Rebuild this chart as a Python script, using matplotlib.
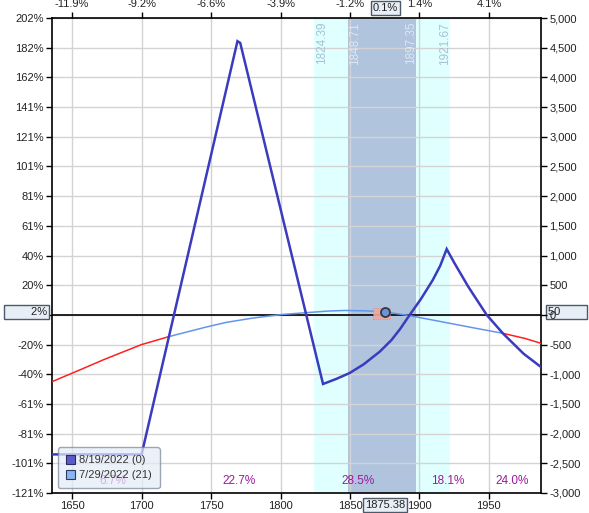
import numpy as np
import matplotlib
matplotlib.use("Agg")
import matplotlib.pyplot as plt
from matplotlib.patches import Patch, Rectangle
import matplotlib.transforms as mtransforms

plt.rcParams['font.family'] = ['Liberation Sans', 'DejaVu Sans']
plt.rcParams['font.size'] = 8

# ---------------- data ----------------
exp_x = [1635.5, 1700, 1769, 1771, 1830.6, 1840, 1849.8, 1860, 1871.4, 1879.9, 1886, 1893.0,
         1901, 1909.6, 1915, 1919.6, 1925, 1930, 1935, 1940, 1948.4, 1960, 1975, 1987.5]
exp_y = [-2350, -2350, 4610, 4580, -1164, -1080, -979, -830, -620, -423, -240, 0,
         265, 587, 830, 1109, 880, 680, 480, 300, 0, -310, -655, -878]

t0_x = [1635.5, 1648.7, 1670, 1699, 1719, 1742, 1760, 1778, 1800, 1814, 1830, 1845,
        1860, 1875.38, 1890, 1900, 1930, 1960, 1975, 1987.5]
t0_y = [-1125, -996, -780, -507, -370, -230, -130, -60, 5, 30, 60, 75,
        70, 50, 0, -45, -180, -310, -390, -479]

x_ticks = [1650, 1700, 1750, 1800, 1850, 1900, 1950]
top_labels = ["-11.9%", "-9.2%", "-6.6%", "-3.9%", "-1.2%", "1.4%", "4.1%"]
y_ticks = [5000, 4500, 4000, 3500, 3000, 2500, 2000, 1500, 1000, 500, 0,
           -500, -1000, -1500, -2000, -2500, -3000]
pct_labels = ["202%", "182%", "162%", "141%", "121%", "101%", "81%", "61%", "40%",
              "20%", "0%", "-20%", "-40%", "-61%", "-81%", "-101%", "-121%"]

spot = 1875.38
spot_pct = "0.1%"
current_pl = 50
current_pct = "2%"
outer_range = (1824.39, 1921.67)
inner_range = (1848.71, 1897.35)
range_labels = ["1824.39", "1848.71", "1897.35", "1921.67"]

prob_x = [1679, 1770, 1855.6, 1920.4, 1967]
prob_labels = ["6.7%", "22.7%", "28.5%", "18.1%", "24.0%"]
legend_labels = ["8/19/2022 (0)", "7/29/2022 (21)"]

xlim = (1635.5, 1987.5)
ylim = (-3000, 5000)

# ---------------- figure ----------------
fig = plt.figure(figsize=(5.89, 5.13), dpi=100)
ax = fig.add_axes([52/589, 20/513, 489/589, 475/513])
ax.set_xlim(*xlim)
ax.set_ylim(*ylim)

# shaded ranges
ax.axvspan(outer_range[0], outer_range[1], color='#e0ffff', zorder=0.1, lw=0)
ax.axvspan(inner_range[0], inner_range[1], color='#b0c4de', zorder=0.2, lw=0)

# grid
ax.set_xticks(x_ticks)
ax.set_yticks(y_ticks)
ax.set_yticklabels(pct_labels)
ax.grid(True, color='#d3d3d3', lw=1, zorder=0.5)
ax.set_axisbelow(True)

# zero line
ax.axhline(0, color='black', lw=1.2, zorder=2)

# range labels (rotated)
trans_lbl = mtransforms.blended_transform_factory(ax.transData, ax.transAxes)
lbl_cols = ['#a9c0d6', '#dfe7f1', '#dfe7f1', '#a9c0d6']
lbl_off = [8, 7, -5, -5]
for v, s, c, o in zip([outer_range[0], inner_range[0], inner_range[1], outer_range[1]],
                      range_labels, lbl_cols, lbl_off):
    ax.annotate(s, xy=(v, 0.992), xycoords=trans_lbl, xytext=(o, 0),
                textcoords='offset pixels', rotation=90, ha='center', va='top',
                color=c, fontsize=8.5, zorder=1)

# T+0 line: red outside the outer crossings with the expiration line
xx = np.linspace(xlim[0], xlim[1], 2000)
t0i = np.interp(xx, t0_x, t0_y)
expi = np.interp(xx, exp_x, exp_y)
above = t0i > expi
ex = np.array(exp_x)
ey = np.array(exp_y)
peak_l = ex[np.argmax(ey)]
peak_r = ex[(ex > 1900)][np.argmax(ey[ex > 1900])]
red_mask = above & ((xx < peak_l) | (xx > peak_r))
blue = np.where(~red_mask, t0i, np.nan)
red = np.where(red_mask, t0i, np.nan)
for i in range(1, len(xx)):
    if red_mask[i] != red_mask[i-1]:
        red[i-1] = t0i[i-1]
        red[i] = t0i[i]
        blue[i] = t0i[i]
        blue[i-1] = t0i[i-1]
ax.plot(xx, blue, color='#6495ed', lw=1.1, zorder=3)
ax.plot(xx, red, color='#ff2020', lw=1.1, zorder=3)

# expiration line
ax.plot(exp_x, exp_y, color='#3b3bbf', lw=1.8, zorder=4, solid_joinstyle='miter')

# current marker
ax.add_patch(Rectangle((1866.5, -69), 12.5, 180, facecolor='#f0a8a0', edgecolor='#e08080',
                       lw=0.6, ls=':', alpha=0.9, zorder=5))
ax.plot([spot], [current_pl], marker='o', ms=6.5, mfc='#6f94d6', mec='#2e3a4a', mew=1.3,
        zorder=6)

# probability labels
trans_p = mtransforms.blended_transform_factory(ax.transData, ax.transAxes)
for px, pl in zip(prob_x, prob_labels):
    ax.text(px, 0.025, pl, transform=trans_p, ha='center', va='center',
            color='#9a1a9a', fontsize=8.5, zorder=3)

# spines / ticks
for s in ax.spines.values():
    s.set_color('black')
    s.set_linewidth(1.2)
ax.tick_params(axis='both', length=4, width=1, color='black', labelsize=8, pad=2,
               labelcolor='#222222')

# right axis
ax2 = ax.twinx()
ax2.set_ylim(*ylim)
ax2.set_yticks(y_ticks)
ax2.set_yticklabels([f"{v:,}" for v in y_ticks])
ax2.tick_params(axis='y', length=4, width=1, labelsize=8, pad=2, labelcolor='#222222')
for s in ax2.spines.values():
    s.set_visible(False)

# top axis
ax3 = ax.twiny()
ax3.set_xlim(*xlim)
ax3.set_xticks(x_ticks)
ax3.set_xticklabels(top_labels)
ax3.tick_params(axis='x', length=4, width=1, labelsize=8, pad=2.5, labelcolor='#222222')
for s in ax3.spines.values():
    s.set_visible(False)

box = dict(boxstyle='square,pad=0.15', facecolor='#e8eef6', edgecolor='#4a5a6a', lw=1)
# boxed labels
trans_y = mtransforms.blended_transform_factory(ax.transAxes, ax.transData)
ax.text(-0.01, current_pl, "        " + current_pct, transform=trans_y, ha='right',
        va='center', fontsize=8, color='#222222', bbox=box, zorder=10, clip_on=False)
ax.text(1.014, current_pl, "50        ", transform=trans_y, ha='left',
        va='center', fontsize=8, color='#222222', bbox=box, zorder=10, clip_on=False)
trans_x = mtransforms.blended_transform_factory(ax.transData, ax.transAxes)
ax.text(spot, -0.025, f"{spot:.2f}", transform=trans_x, ha='center', va='center',
        fontsize=8, color='#222222', bbox=box, zorder=10, clip_on=False)
ax.text(spot, 1.021, spot_pct, transform=trans_x, ha='center', va='center',
        fontsize=8, color='#222222', bbox=box, zorder=10, clip_on=False)

# legend
handles = [Patch(facecolor='#5b5bc8', edgecolor='#2a2a66', lw=0.8),
           Patch(facecolor='#8cb4ee', edgecolor='#2a3a66', lw=0.8)]
leg = ax.legend(handles, legend_labels, loc='lower left', bbox_to_anchor=(0.012, 0.01),
                fancybox=True, framealpha=0.72, facecolor='#e4ecf7', edgecolor='#7a8796',
                handlelength=0.8, handleheight=0.8, handletextpad=0.4, borderpad=0.7,
                labelspacing=0.45, fontsize=8, borderaxespad=0)
for t in leg.get_texts():
    t.set_color('#333333')
leg.set_zorder(8)

fig.savefig("out.png", dpi=100)
